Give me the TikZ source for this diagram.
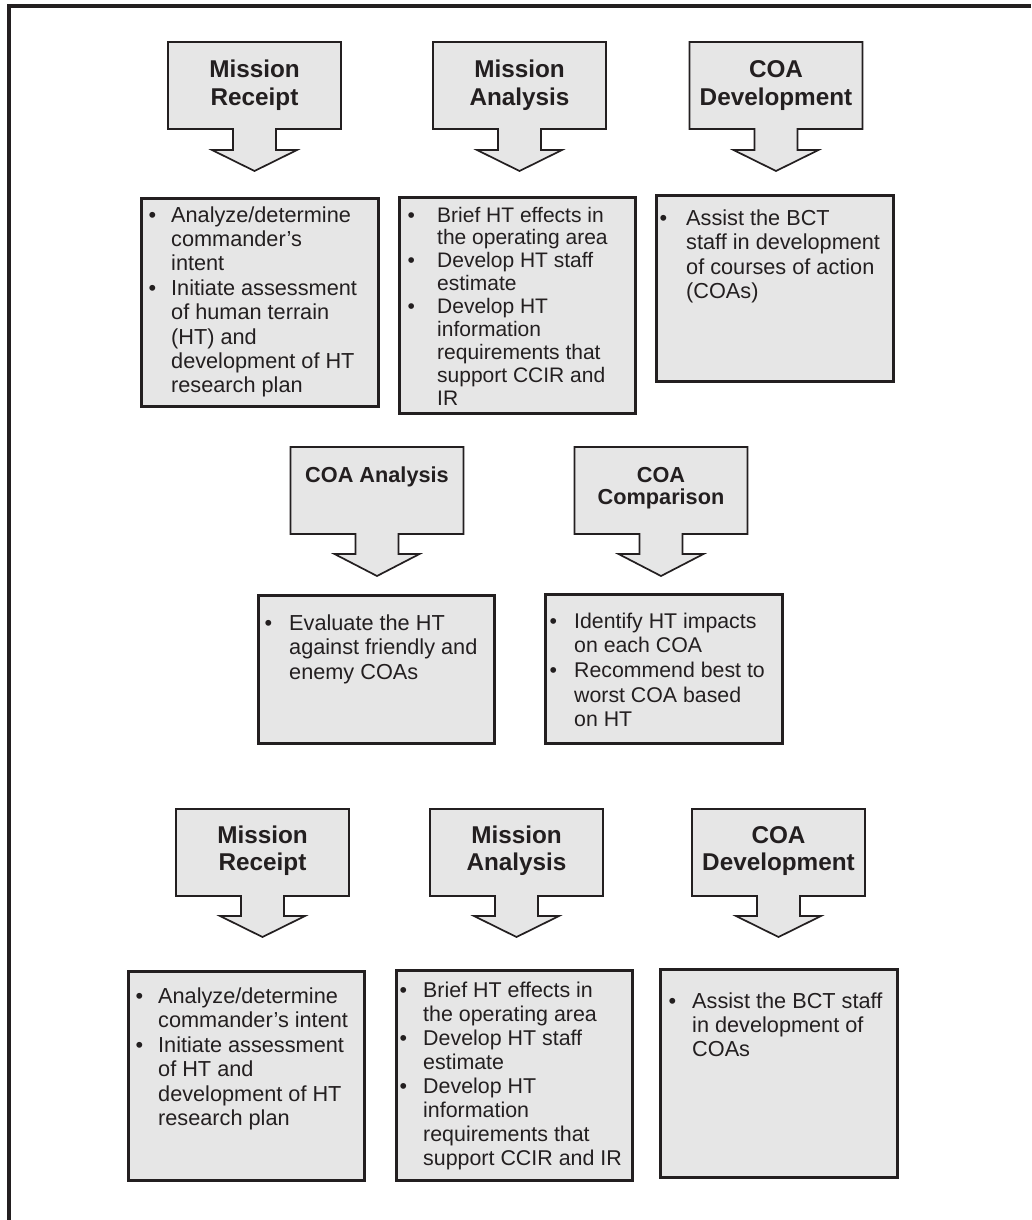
\documentclass[tikz,border=0pt]{standalone}
\usepackage{fontspec}
\setmainfont{Liberation Sans}
\definecolor{ink}{HTML}{231F20}
\definecolor{boxfill}{HTML}{E6E6E6}
\newdimen\bind
\newcommand\bi[1]{\hbox{\makebox[\bind][l]{•}#1}}
\newcommand\ci[1]{\hbox{\hspace*{\bind}#1}}
\newcommand\ttl[1]{\vtop{\halign{\hfil##\hfil\cr#1\crcr}}}
\tikzset{
  callshape/.style={draw=ink, fill=boxfill, line width=1.7pt, line join=miter},
  bodybox/.style={draw=ink, fill=boxfill, line width=2.5pt, inner sep=0pt, anchor=north west},
  bodytext/.style={inner sep=0pt, anchor=base west, text=ink, font=\fontsize{#1}{24.5}\selectfont},
  bodytext/.default=21.7,
  titlebig/.style={inner sep=0pt, anchor=base, text=ink, font=\bfseries\fontsize{24.3}{27.7}\selectfont},
  titlesmall/.style={inner sep=0pt, anchor=base, text=ink, font=\bfseries\fontsize{21.7}{22.3}\selectfont},
}
% #1 name, #2 cx, #3 top, #4 stem length, #5 tip offset, #6 title style, #7 baseline offset, #8 title
\newcommand\callout[8]{%
  \draw[callshape] ({#2-86.5},{#3}) -- ({#2+86.5},{#3}) -- ({#2+86.5},{#3+87})
    -- ({#2+21.5},{#3+87}) -- ({#2+21.5},{#3+87+#4}) -- ({#2+42.5},{#3+87+#4})
    -- ({#2},{#3+#5}) -- ({#2-42.5},{#3+87+#4}) -- ({#2-21.5},{#3+87+#4})
    -- ({#2-21.5},{#3+87}) -- ({#2-86.5},{#3+87}) -- cycle;
  \node[#6] (#1) at ({#2},{#3+#7}) {\ttl{#8}};
}
\begin{document}
\begin{tikzpicture}[x=1pt,y=-1pt]
\useasboundingbox (0,0) rectangle (1031,1220);
\fill[white] (0,0) rectangle (1031,1220);
% frame
\draw[ink, line width=4.5pt] (1031,6) -- (9,6) -- (9,1220);

% ---------- row 1 ----------
\callout{c1}{254.5}{42}{21}{129}{titlebig}{36}{Mission\cr Receipt}
\callout{c2}{519.5}{42}{21}{129}{titlebig}{36}{Mission\cr Analysis}
\callout{c3}{776}{42}{21}{129}{titlebig}{36}{COA\cr Development}

\node[bodybox, minimum width=237pt, minimum height=208pt] (b1) at (140,197) {};
\node[bodybox, minimum width=236pt, minimum height=216pt] (b2) at (398,196) {};
\node[bodybox, minimum width=237pt, minimum height=186pt] (b3) at (655,194) {};

\node[bodytext] (t1) at (148.5,222) {\bind=22.5pt\vtop{\baselineskip=24.4pt
  \bi{Analyze/determine}\ci{commander's}\ci{intent}
  \bi{Initiate assessment}\ci{of human terrain}\ci{(HT) and}\ci{development of HT}\ci{research plan}}};
\node[bodytext=21] (t2) at (407.5,222) {\bind=29.5pt\vtop{\baselineskip=22.9pt
  \bi{Brief HT effects in}\ci{the operating area}
  \bi{Develop HT staff}\ci{estimate}
  \bi{Develop HT}\ci{information}\ci{requirements that}\ci{support CCIR and}\ci{IR}}};
\node[bodytext] (t3) at (659.5,225) {\bind=26.5pt\vtop{\baselineskip=24.5pt
  \bi{Assist the BCT}\ci{staff in development}\ci{of courses of action}\ci{(COAs)}}};

% ---------- row 2 ----------
\callout{c4}{377}{447}{20}{129}{titlesmall}{35}{COA Analysis}
\callout{c5}{661}{447}{20}{129}{titlesmall}{35}{COA\cr Comparison}

\node[bodybox, minimum width=236pt, minimum height=148pt] (b4) at (257,594) {};
\node[bodybox, minimum width=237pt, minimum height=149pt] (b5) at (544,593) {};

\node[bodytext] (t4) at (264.5,630) {\bind=24.5pt\vtop{\baselineskip=24.5pt
  \bi{Evaluate the HT}\ci{against friendly and}\ci{enemy COAs}}};
\node[bodytext=21.3] (t5) at (549.5,628) {\bind=24.5pt\vtop{\baselineskip=24.7pt
  \bi{Identify HT impacts}\ci{on each COA}
  \bi{Recommend best to}\ci{worst COA based}\ci{on HT}}};

% ---------- row 3 ----------
\callout{c6}{262.5}{809}{20}{128}{titlebig}{34}{Mission\cr Receipt}
\callout{c7}{516.5}{809}{20}{128}{titlebig}{34}{Mission\cr Analysis}
\callout{c8}{778.5}{809}{20}{128}{titlebig}{34}{COA\cr Development}

\node[bodybox, minimum width=236pt, minimum height=209pt] (b7) at (127,970) {};
\node[bodybox, minimum width=236pt, minimum height=210pt] (b8) at (395,969) {};
\node[bodybox, minimum width=237pt, minimum height=208pt] (b9) at (659,968) {};

\node[bodytext] (t7) at (135.5,1003) {\bind=22.5pt\vtop{\baselineskip=24.5pt
  \bi{Analyze/determine}\ci{commander's intent}
  \bi{Initiate assessment}\ci{of HT and}\ci{development of HT}\ci{research plan}}};
\node[bodytext=21.4] (t8) at (399.5,997) {\bind=23.5pt\vtop{\baselineskip=24pt
  \bi{Brief HT effects in}\ci{the operating area}
  \bi{Develop HT staff}\ci{estimate}
  \bi{Develop HT}\ci{information}\ci{requirements that}\ci{support CCIR and IR}}};
\node[bodytext] (t9) at (668.5,1008) {\bind=23.5pt\vtop{\baselineskip=24pt
  \bi{Assist the BCT staff}\ci{in development of}\ci{COAs}}};
\end{tikzpicture}
\end{document}
